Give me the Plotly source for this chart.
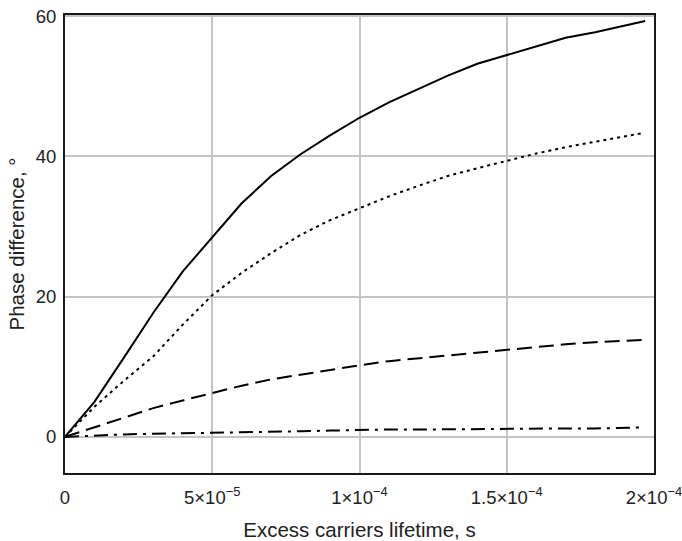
import plotly.graph_objects as go

# lifetime values (s)
x_solid = [0, 1e-5, 2e-5, 3e-5, 4e-5, 5e-5, 6e-5, 7e-5, 8e-5, 9e-5, 10e-5,
           11e-5, 12e-5, 13e-5, 14e-5, 15e-5, 16e-5, 17e-5, 18e-5, 19e-5, 19.7e-5]
y_solid = [0, 5.0, 11.3, 17.7, 23.6, 28.5, 33.3, 37.2, 40.3, 43.0, 45.5,
           47.7, 49.6, 51.5, 53.2, 54.4, 55.7, 56.9, 57.7, 58.7, 59.3]

x_dot = [0, 1e-5, 2e-5, 3e-5, 4e-5, 5e-5, 6e-5, 7e-5, 8e-5, 9e-5, 10e-5,
         11e-5, 12e-5, 13e-5, 14e-5, 15e-5, 16e-5, 17e-5, 18e-5, 19e-5, 19.6e-5]
y_dot = [0, 4.3, 8.0, 11.5, 16.0, 20.2, 23.4, 26.2, 28.8, 30.9, 32.6,
         34.3, 35.8, 37.2, 38.3, 39.4, 40.4, 41.3, 42.1, 42.8, 43.3]

x_dash = [0, 1e-5, 2e-5, 3e-5, 4e-5, 5e-5, 6e-5, 7e-5, 8e-5, 9e-5, 10e-5,
          11e-5, 12e-5, 13e-5, 14e-5, 15e-5, 16e-5, 17e-5, 18e-5, 19e-5, 19.6e-5]
y_dash = [0, 1.4, 2.8, 4.1, 5.2, 6.3, 7.3, 8.2, 8.9, 9.6, 10.2,
          10.8, 11.2, 11.6, 12.0, 12.4, 12.9, 13.2, 13.5, 13.7, 13.8]

x_dashdot = [0, 1e-5, 2e-5, 3e-5, 4e-5, 5e-5, 6e-5, 7e-5, 8e-5, 9e-5, 10e-5,
             11e-5, 12e-5, 13e-5, 14e-5, 15e-5, 16e-5, 17e-5, 18e-5, 19e-5, 19.6e-5]
y_dashdot = [0, 0.2, 0.35, 0.45, 0.5, 0.6, 0.65, 0.7, 0.8, 0.9, 1.0,
             1.05, 1.05, 1.1, 1.1, 1.15, 1.2, 1.2, 1.2, 1.25, 1.35]

x_tickvals = [0, 5e-5, 1e-4, 1.5e-4, 2e-4]
x_ticktext = ["0", "5×10<sup>−5</sup>", "1×10<sup>−4</sup>",
              "1.5×10<sup>−4</sup>", "2×10<sup>−4</sup>"]
y_tickvals = [0, 20, 40, 60]
y_ticktext = ["0", "20", "40", "60"]

series = [
    (x_solid, y_solid, "solid"),
    (x_dot, y_dot, "3px,4px"),
    (x_dash, y_dash, "15px,7px"),
    (x_dashdot, y_dashdot, "14px,6px,3px,6px"),
]

fig = go.Figure()
for xs, ys, dash in series:
    fig.add_trace(go.Scatter(x=xs, y=ys, mode="lines",
                             line=dict(color="black", width=2, dash=dash),
                             showlegend=False))

font_family = "Liberation Sans, Arial, Helvetica, sans-serif"
fig.update_layout(
    width=682, height=541,
    margin=dict(l=65, r=28, t=15, b=68),
    paper_bgcolor="white", plot_bgcolor="white",
    font=dict(family=font_family, size=18.5, color="#222"),
)
fig.update_xaxes(
    range=[0, 2e-4], tickvals=x_tickvals, ticktext=x_ticktext,
    showgrid=True, gridcolor="#c4c4c4", gridwidth=1.5,
    showline=True, mirror=True, linecolor="#1a1a1a", linewidth=2,
    zeroline=False, ticks="", ticklabelstandoff=7, automargin=False,
    ticklabeloverflow="allow",
    tickfont=dict(size=18.5),
    title=dict(text="Excess carriers lifetime, s", standoff=15,
               font=dict(size=20.5)),
)
fig.update_yaxes(
    range=[-5.15, 60.15], tickvals=y_tickvals, ticktext=y_ticktext,
    showgrid=True, gridcolor="#c4c4c4", gridwidth=1.5,
    showline=True, mirror=True, linecolor="#1a1a1a", linewidth=2,
    zeroline=False, ticks="", ticklabelstandoff=3, automargin=False,
    ticklabeloverflow="allow",
    tickfont=dict(size=18.5),
    title=dict(text="Phase difference, °", standoff=6,
               font=dict(size=20.5)),
)

fig.write_html("out.html")
